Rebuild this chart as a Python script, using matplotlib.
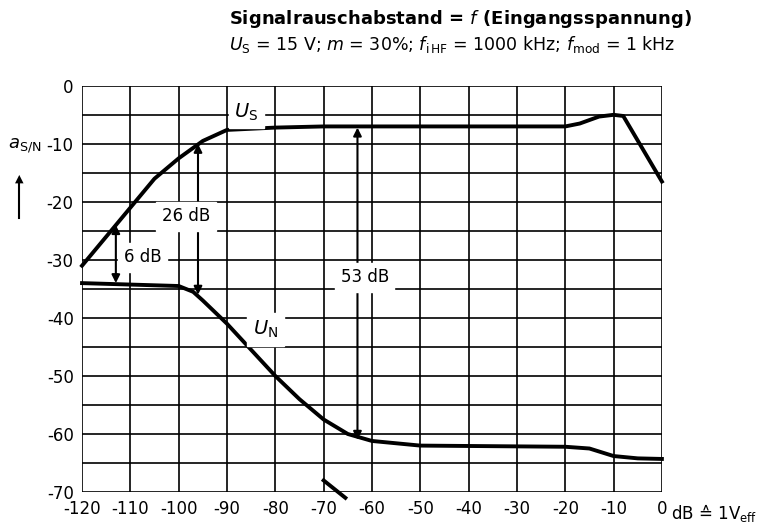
import matplotlib.pyplot as plt

# values
us_x = [-120, -115, -110, -105, -100, -95, -90, -80, -70, -60, -20, -17, -13, -10, -8, 0]
us_y = [-31, -26, -21, -16, -12.5, -9.5, -7.6, -7.2, -7, -7, -7, -6.5, -5.3, -5, -5.2, -16.5]
un_x = [-120, -100, -97, -95, -90, -85, -80, -75, -70, -65, -60, -55, -50, -20, -15, -10, -5, 0]
un_y = [-34, -34.5, -35.5, -37, -41, -45.5, -50, -54, -57.5, -60, -61.2, -61.6, -62, -62.2, -62.5, -63.8, -64.2, -64.3]
x_ticks = [-120, -110, -100, -90, -80, -70, -60, -50, -40, -30, -20, -10, 0]
y_ticks = [0, -10, -20, -30, -40, -50, -60, -70]

fig = plt.figure(figsize=(7.63, 5.31), dpi=100)
ax = fig.add_axes([0.1075, 0.0734, 0.76, 0.765])
ax.set_xlim(-120, 0)
ax.set_ylim(-70, 0)

for x in range(-120, 1, 10):
    ax.axvline(x, color='black', lw=1.2)
for y in range(-70, 1, 5):
    ax.axhline(y, color='black', lw=1.2)

ax.plot(us_x, us_y, color='black', lw=2.8, clip_on=False)
ax.plot(un_x, un_y, color='black', lw=2.8, clip_on=False)
ax.plot([-70, -65.5], [-68, -71], color='black', lw=2.8, clip_on=False)

arr = dict(arrowstyle='<|-|>', color='black', lw=1.5, mutation_scale=12, shrinkA=0, shrinkB=0)
ax.annotate('', xy=(-113, -24), xytext=(-113, -34), arrowprops=arr)
ax.annotate('', xy=(-96, -10), xytext=(-96, -36), arrowprops=arr)
ax.annotate('', xy=(-63, -7.2), xytext=(-63, -61), arrowprops=arr)

lab = dict(fontsize=12, backgroundcolor='white', ha='center', va='center')
ax.text(-107.5, -29.5, '6 dB', **lab)
ax.text(-98.5, -22.5, '26 dB', **lab)
ax.text(-61.5, -33, '53 dB', **lab)
ax.text(-86, -4.5, '$U_\\mathrm{S}$', fontsize=14, ha='center', va='center', backgroundcolor='white')
ax.text(-82, -42, '$U_\\mathrm{N}$', fontsize=14, ha='center', va='center', backgroundcolor='white')

ax.set_xticks(x_ticks)
ax.set_yticks(y_ticks)
ax.set_xticklabels([str(v) for v in x_ticks], fontsize=12)
ax.set_yticklabels([str(v) for v in y_ticks], fontsize=12)
ax.tick_params(length=0, pad=6)
for s in ax.spines.values():
    s.set_visible(False)

fig.text(0.033, 0.72, '$a_\\mathrm{S/N}$', fontsize=13, ha='center')
fig.add_artist(plt.Line2D([0.025, 0.025], [0.59, 0.66], color='black', lw=1.5))
fig.text(0.025, 0.655, '▲', fontsize=8, ha='center', va='bottom')
fig.text(0.88, 0.022, 'dB ≙ 1V$_\\mathrm{eff}$', fontsize=12)

fig.text(0.30, 0.955, 'Signalrauschabstand = $f$ (Eingangsspannung)', fontsize=13, fontweight='bold', ha='left')
fig.text(0.30, 0.905, '$U_\\mathrm{S}$ = 15 V; $m$ = 30%; $f_\\mathrm{i\\,HF}$ = 1000 kHz; $f_\\mathrm{mod}$ = 1 kHz',
         fontsize=12.5, ha='left')

fig.savefig('out.png', dpi=100)
